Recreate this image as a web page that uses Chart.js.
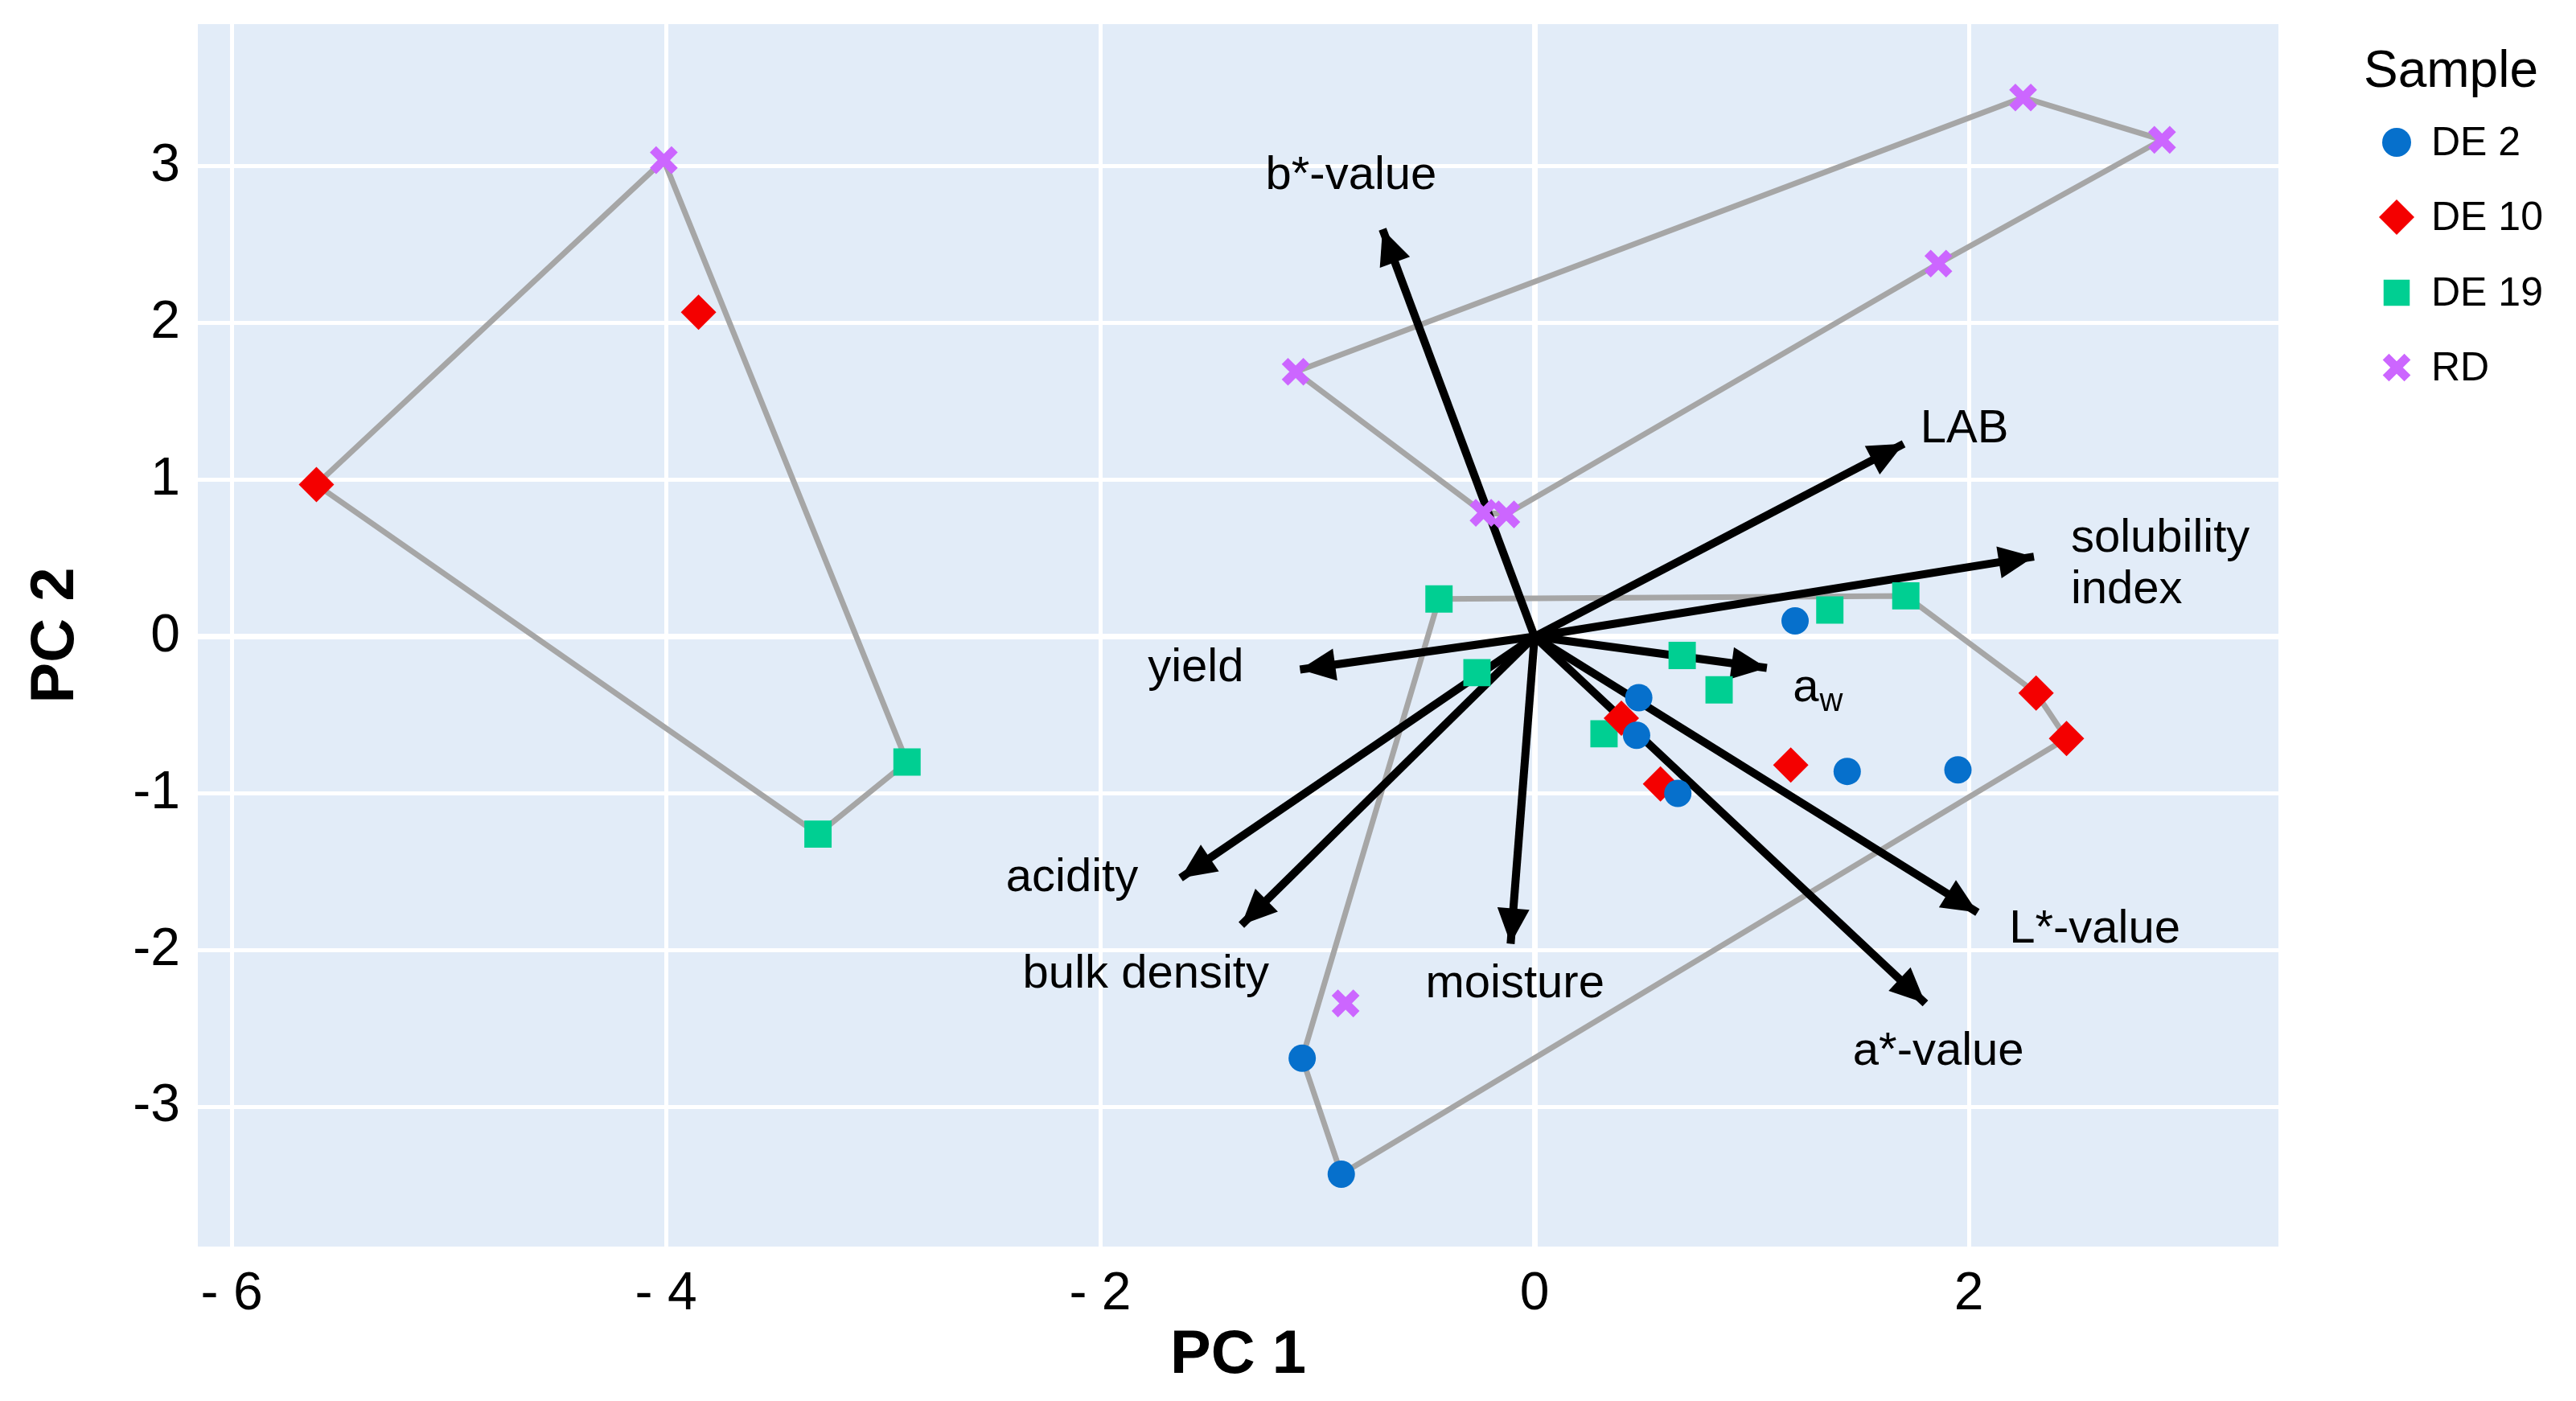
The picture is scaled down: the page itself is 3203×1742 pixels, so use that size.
<!DOCTYPE html>
<html>
<head>
<meta charset="UTF-8">
<title>PCA biplot</title>
<script src="https://cdn.jsdelivr.net/npm/chart.js"></script>
<style>
  html, body { margin: 0; padding: 0; background: #fff; }
  #wrap { width: 3203px; height: 1742px; }
</style>
</head>
<body>
<div id="wrap"><canvas id="pca"></canvas></div>
<script>
// sample scores, [PC1, PC2]
var sampleNames = ['DE 2', 'DE 10', 'DE 19', 'RD'];
var de2 = [[1.20, 0.10], [0.48, -0.39], [0.47, -0.63], [0.66, -1.00], [1.44, -0.86], [1.95, -0.85], [-1.07, -2.69], [-0.89, -3.43]];
var de10 = [[-5.61, 0.97], [-3.85, 2.07], [2.31, -0.36], [2.45, -0.65], [1.18, -0.82], [0.40, -0.52], [0.58, -0.94]];
var de19 = [[-3.30, -1.26], [-2.89, -0.80], [-0.44, 0.24], [-0.265, -0.23], [1.71, 0.26], [1.36, 0.17], [0.68, -0.12], [0.85, -0.34], [0.32, -0.62]];
var rd = [[-4.01, 3.04], [2.25, 3.44], [2.89, 3.17], [1.86, 2.38], [-1.10, 1.69], [-0.235, 0.79], [-0.13, 0.78], [-0.87, -2.34]];

// hull outlines, as [sample, index] references
var hulls = [
  [['DE 10', 0], ['RD', 0], ['DE 19', 1], ['DE 19', 0], ['DE 10', 0]],
  [['RD', 4], ['RD', 1], ['RD', 2], ['RD', 3], ['RD', 6], ['RD', 5], ['RD', 4]],
  [['DE 19', 2], ['DE 19', 4], ['DE 10', 2], ['DE 10', 3], ['DE 2', 7], ['DE 2', 6], ['DE 19', 2]]
];

// variable loadings (arrow tips) and their label anchors
var loadingNames = ['b*-value', 'LAB', 'solubility\nindex', 'yield', 'a_w', 'acidity', 'bulk density', 'moisture', 'L*-value', 'a*-value'];
var loadingPC1 = [-0.70, 1.70, 2.30, -1.08, 1.07, -1.63, -1.35, -0.11, 2.04, 1.80];
var loadingPC2 = [2.60, 1.23, 0.51, -0.21, -0.20, -1.54, -1.84, -1.96, -1.76, -2.34];
var labelPC1 = [-0.845, 1.98, 2.47, -1.56, 1.19, -2.13, -1.79, -0.09, 2.58, 1.86];
var labelPC2 = [2.94, 1.32, 0.46, -0.20, -0.33, -1.54, -2.16, -2.22, -1.87, -2.65];

var xTickValues = [-6, -4, -2, 0, 2];
var xTickLabels = ['- 6', '- 4', '- 2', '0', '2'];
var yTickValues = [-3, -2, -1, 0, 1, 2, 3];
var yTickLabels = ['-3', '-2', '-1', '0', '1', '2', '3'];

var FONT = "'Liberation Sans', Arial, Helvetica, sans-serif";
Chart.defaults.font.family = FONT;
Chart.defaults.color = '#000';

var seriesData = { 'DE 2': de2, 'DE 10': de10, 'DE 19': de19, 'RD': rd };
var styles = {
  'DE 2':  { pointStyle: 'circle',   radius: 17, legendRadius: 18, color: '#0670cc', border: 0 },
  'DE 10': { pointStyle: 'rectRot',  radius: 22, legendRadius: 22, color: '#f40000', border: 0 },
  'DE 19': { pointStyle: 'rect',     radius: 24, legendRadius: 23, color: '#00cf92', border: 0 },
  'RD':    { pointStyle: 'crossRot', radius: 19, legendRadius: 19, color: '#cc66ff', border: 11 }
};

function toXY(arr) {
  return arr.map(function (p) { return { x: p[0], y: p[1] }; });
}

var datasets = [];

sampleNames.forEach(function (name) {
  var s = styles[name];
  datasets.push({
    label: name,
    data: toXY(seriesData[name]),
    showLine: false,
    pointStyle: s.pointStyle,
    pointRadius: s.radius,
    pointHoverRadius: s.radius,
    pointBackgroundColor: s.color,
    pointBorderColor: s.color,
    pointBorderWidth: s.border,
    pointHoverBorderWidth: s.border,
    order: 0
  });
});

loadingNames.forEach(function (name, i) {
  datasets.push({
    label: name,
    data: [{ x: 0, y: 0 }, { x: loadingPC1[i], y: loadingPC2[i] }],
    showLine: true,
    borderColor: '#000',
    borderWidth: 10,
    borderCapStyle: 'butt',
    pointRadius: 0,
    pointHoverRadius: 0,
    arrow: true,
    order: 1
  });
});

hulls.forEach(function (h, i) {
  datasets.push({
    label: 'hull ' + i,
    data: h.map(function (ref) {
      var p = seriesData[ref[0]][ref[1]];
      return { x: p[0], y: p[1] };
    }),
    showLine: true,
    borderColor: '#a6a6a6',
    borderWidth: 7,
    pointRadius: 0,
    pointHoverRadius: 0,
    order: 2
  });
});

var panelBackground = {
  id: 'panelBackground',
  beforeDraw: function (chart) {
    var a = chart.chartArea, ctx = chart.ctx;
    ctx.save();
    ctx.fillStyle = '#e2ecf8';
    ctx.fillRect(a.left, a.top, a.right - a.left, a.bottom - a.top);
    ctx.restore();
  }
};

var arrowHeads = {
  id: 'arrowHeads',
  afterDatasetDraw: function (chart, args) {
    var ds = chart.data.datasets[args.index];
    if (!ds.arrow) return;
    var p0 = args.meta.data[0], p1 = args.meta.data[1];
    var dx = p1.x - p0.x, dy = p1.y - p0.y;
    var len = Math.sqrt(dx * dx + dy * dy);
    var ux = dx / len, uy = dy / len;
    var L = 44, W = 20;
    var bx = p1.x - ux * L, by = p1.y - uy * L;
    var ctx = chart.ctx;
    ctx.save();
    ctx.fillStyle = '#000';
    ctx.beginPath();
    ctx.moveTo(p1.x, p1.y);
    ctx.lineTo(bx - uy * W, by + ux * W);
    ctx.lineTo(bx + uy * W, by - ux * W);
    ctx.closePath();
    ctx.fill();
    ctx.restore();
  }
};

var loadingLabels = {
  id: 'loadingLabels',
  afterDatasetsDraw: function (chart) {
    var ctx = chart.ctx, sx = chart.scales.x, sy = chart.scales.y;
    ctx.save();
    ctx.fillStyle = '#000';
    ctx.textBaseline = 'middle';
    loadingNames.forEach(function (name, i) {
      var px = sx.getPixelForValue(labelPC1[i]);
      var py = sy.getPixelForValue(labelPC2[i]);
      ctx.font = '58px ' + FONT;
      if (name.indexOf('_') >= 0) {
        var parts = name.split('_');
        ctx.textAlign = 'left';
        ctx.fillText(parts[0], px, py);
        var w = ctx.measureText(parts[0]).width;
        ctx.font = '40px ' + FONT;
        ctx.fillText(parts[1], px + w + 1, py + 17);
      } else if (name.indexOf('\n') >= 0) {
        var lines = name.split('\n');
        ctx.textAlign = 'left';
        var lh = 64;
        lines.forEach(function (ln, k) {
          ctx.fillText(ln, px, py + (k - (lines.length - 1) / 2) * lh);
        });
      } else {
        ctx.textAlign = 'center';
        ctx.fillText(name, px, py);
      }
    });
    ctx.restore();
  }
};

var sampleLegend = {
  id: 'sampleLegend',
  afterDraw: function (chart) {
    var ctx = chart.ctx;
    ctx.save();
    ctx.fillStyle = '#000';
    ctx.textAlign = 'left';
    ctx.textBaseline = 'alphabetic';
    ctx.font = '64px ' + FONT;
    ctx.fillText('Sample', 2939, 108);
    var rowY = [177, 270, 364, 457];
    sampleNames.forEach(function (name, i) {
      var s = styles[name];
      ctx.fillStyle = s.color;
      ctx.strokeStyle = s.color;
      ctx.lineWidth = s.border;
      Chart.helpers.drawPoint(ctx, { pointStyle: s.pointStyle, radius: s.legendRadius, rotation: 0, borderWidth: s.border }, 2980, rowY[i]);
      ctx.fillStyle = '#000';
      ctx.textBaseline = 'middle';
      ctx.font = '50px ' + FONT;
      ctx.fillText(name, 3023, rowY[i] + 2);
    });
    ctx.restore();
  }
};

new Chart(document.getElementById('pca'), {
  type: 'scatter',
  data: { datasets: datasets },
  options: {
    responsive: true,
    maintainAspectRatio: false,
    animation: false,
    devicePixelRatio: 1,
    layout: { padding: { left: 0, top: 29, right: 370, bottom: 0 } },
    plugins: {
      legend: { display: false },
      tooltip: { enabled: false }
    },
    scales: {
      x: {
        type: 'linear',
        min: -6.156,
        max: 3.426,
        afterBuildTicks: function (scale) {
          scale.ticks = xTickValues.map(function (v) { return { value: v }; });
        },
        afterFit: function (scale) {
          scale.height = 192;
          scale.paddingLeft = 0;
          scale.paddingRight = 0;
        },
        ticks: {
          autoSkip: false,
          maxRotation: 0,
          padding: 20,
          font: { size: 66 },
          color: '#000',
          callback: function (value, index) { return xTickLabels[index]; }
        },
        grid: {
          color: '#ffffff',
          lineWidth: function (c) { return c.tick && c.tick.value === 0 ? 7 : 5; },
          drawTicks: false
        },
        border: { display: false },
        title: {
          display: true,
          text: 'PC 1',
          font: { size: 76, weight: 'bold' },
          color: '#000',
          padding: { top: 0, bottom: 10 }
        }
      },
      y: {
        type: 'linear',
        min: -3.892,
        max: 3.908,
        afterBuildTicks: function (scale) {
          scale.ticks = yTickValues.map(function (v) { return { value: v }; });
        },
        afterFit: function (scale) {
          scale.width = 246;
          scale.paddingTop = 0;
          scale.paddingBottom = 0;
        },
        ticks: {
          autoSkip: false,
          padding: 22,
          font: { size: 66 },
          color: '#000',
          callback: function (value, index) { return yTickLabels[index]; }
        },
        grid: {
          color: '#ffffff',
          lineWidth: function (c) { return c.tick && c.tick.value === 0 ? 7 : 5; },
          drawTicks: false
        },
        border: { display: false },
        title: {
          display: true,
          text: 'PC 2',
          font: { size: 76, weight: 'bold' },
          color: '#000',
          padding: { top: 24, bottom: 0 }
        }
      }
    }
  },
  plugins: [panelBackground, arrowHeads, loadingLabels, sampleLegend]
});
</script>
</body>
</html>
